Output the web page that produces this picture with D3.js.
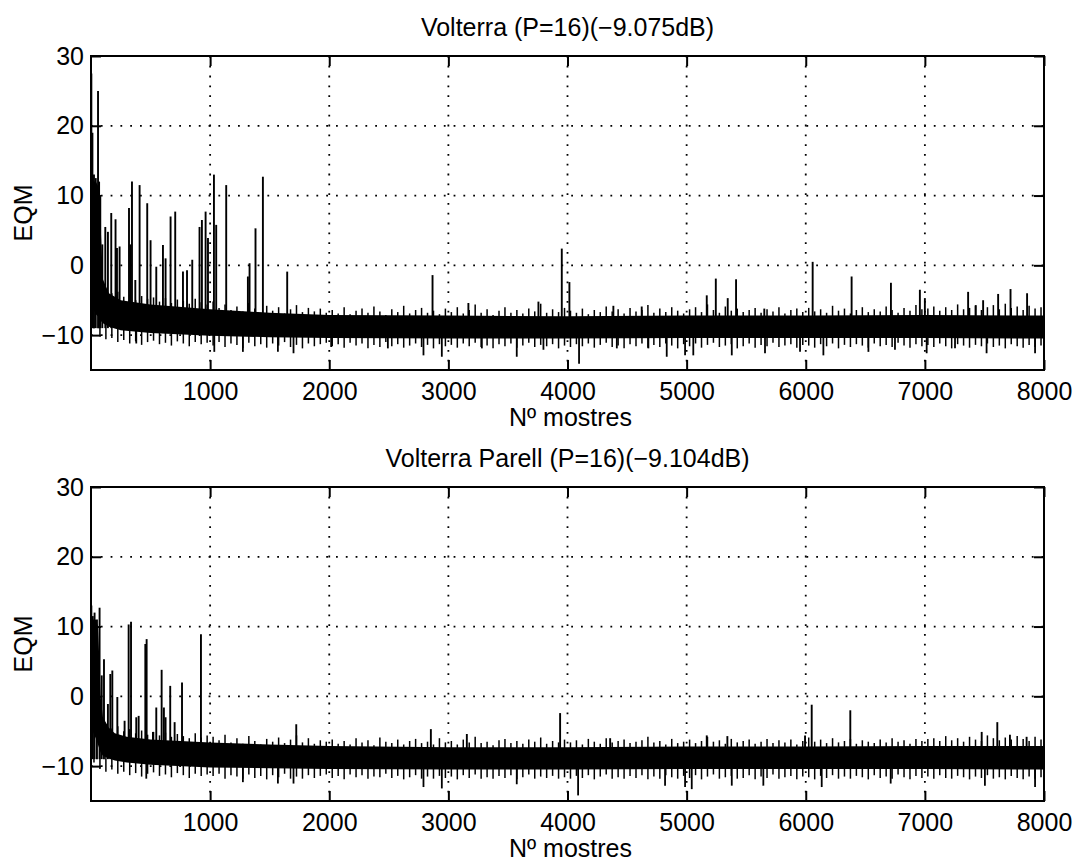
<!DOCTYPE html>
<html>
<head>
<meta charset="utf-8">
<script src="https://cdn.jsdelivr.net/npm/d3@7"></script>
<style>
  body { margin: 0; background: #fff; }
  text { font-family: "Liberation Sans", Arial, Helvetica, sans-serif; fill: #000; }
</style>
</head>
<body>
<div id="chart"></div>
<script>
// ---- data ----
var titles = ["Volterra (P=16)(\u22129.075dB)", "Volterra Parell (P=16)(\u22129.104dB)"];
var xTicks = [1000, 2000, 3000, 4000, 5000, 6000, 7000, 8000];
var yTicks = [-10, 0, 10, 20, 30];

// bin centres for the noise fringe (one value every 50 samples)
var binX = [25,75,125,175,225,275,325,375,425,475,525,575,625,675,725,775,825,875,925,975,
  1025,1075,1125,1175,1225,1275,1325,1375,1425,1475,1525,1575,1625,1675,1725,1775,1825,1875,1925,1975,
  2025,2075,2125,2175,2225,2275,2325,2375,2425,2475,2525,2575,2625,2675,2725,2775,2825,2875,2925,2975,
  3025,3075,3125,3175,3225,3275,3325,3375,3425,3475,3525,3575,3625,3675,3725,3775,3825,3875,3925,3975,
  4025,4075,4125,4175,4225,4275,4325,4375,4425,4475,4525,4575,4625,4675,4725,4775,4825,4875,4925,4975,
  5025,5075,5125,5175,5225,5275,5325,5375,5425,5475,5525,5575,5625,5675,5725,5775,5825,5875,5925,5975,
  6025,6075,6125,6175,6225,6275,6325,6375,6425,6475,6525,6575,6625,6675,6725,6775,6825,6875,6925,6975,
  7025,7075,7125,7175,7225,7275,7325,7375,7425,7475,7525,7575,7625,7675,7725,7775,7825,7875,7925,7975];

// panel 1 : Volterra
var topCoreX  = [0, 15, 40, 70, 85, 100, 150, 250, 500, 1000, 1500, 2000, 3000, 4000, 5000, 6000, 7000, 8000];
var topCoreHi = [27, 12, 12, 11, 4, -2, -4, -5, -5.6, -6.3, -6.8, -7.1, -7.2, -7.3, -7.2, -7.2, -7.1, -7.2];
var topCoreLo = [-2, -6, -7, -7.5, -8, -8.3, -8.8, -9.3, -9.7, -10.1, -10.3, -10.4, -10.5, -10.5, -10.4, -10.4, -10.4, -10.5];
var topFringeHi = [
  -1,-3,-3.5,-4,-3.8,-4.5,-4.2,-5,-4.4,-4.8,-4.6,-5.2,-4.7,-5.4,-4.9,-5.1,-5.5,-4.8,-5.3,-5.6,
  -5.2,-6.1,-5.6,-6.4,-5.9,-6.6,-5.4,-6.2,-6.8,-5.8,-6.5,-6,-6.9,-6.3,-5.7,-6.7,-6.1,-6.6,-6.2,-6.8,
  -6.4,-6.9,-6,-7,-6.5,-6.2,-6.8,-5.9,-6.6,-7.1,-6.3,-6.7,-5.8,-6.9,-6.4,-6.1,-6.8,-6.5,-7,-6.2,
  -6.7,-6,-6.9,-6.4,-5.6,-6.8,-6.3,-7.1,-6.5,-6,-6.8,-6.4,-6.9,-6.2,-6.6,-5.5,-6.8,-6.3,-6.7,-6.1,
  -6.5,-6.8,-6.2,-7,-6.4,-6.7,-5.9,-6.6,-6.3,-6.9,-6.1,-6.6,-6.4,-5.7,-6.8,-6.2,-6.7,-6,-6.5,-6.9,
  -6.3,-6,-6.7,-5.6,-6.4,-6.8,-5.9,-6.5,-6.2,-6.7,-6.4,-6.1,-6.8,-6.3,-6.6,-6,-6.9,-6.4,-6.2,-6.7,
  -6.1,-6.6,-6.3,-6.8,-5.8,-6.5,-6.2,-6.9,-6.4,-6,-6.7,-6.3,-6.6,-5.9,-6.4,-6.8,-6.1,-6.5,-5.7,-6.3,
  -6.2,-5.9,-6.5,-6,-6.4,-5.6,-6.3,-6.1,-5.8,-6.4,-6,-5.7,-6.3,-5.5,-6.1,-5.9,-6.4,-5.8,-6.2,-6];
var topFringeLo = [
  -9,-10.2,-10.6,-10.4,-11,-10.7,-11.2,-10.9,-11.4,-11,-10.8,-11.3,-11.1,-11.5,-10.9,-11.2,-11.6,-11,-11.3,-11.1,
  -11.5,-11,-11.7,-11.2,-11.4,-11.9,-11.1,-11.6,-11.3,-11.8,-11.2,-11.5,-11,-11.7,-11.4,-11.9,-11.2,-11.6,-11.3,-11.1,
  -11.6,-11.3,-11.8,-11.1,-11.5,-11.2,-11.9,-11.4,-11.7,-11,-11.6,-11.3,-11.8,-11.5,-11.2,-11.7,-11.4,-11.9,-11.3,-11.6,
  -11.4,-11.8,-11.2,-11.6,-11.1,-11.7,-11.5,-11.9,-11.3,-11.6,-11.2,-11.8,-11.5,-11.1,-11.7,-11.4,-11.6,-11.3,-11.9,-11.5,
  -11.7,-11.3,-11.6,-11.2,-11.8,-11.4,-11.1,-11.7,-11.5,-11.9,-11.3,-11.6,-11.2,-11.8,-11.4,-11.7,-11.2,-11.5,-11.9,-11.3,
  -11.6,-11.2,-11.8,-11.4,-11.1,-11.7,-11.5,-11.3,-11.9,-11.6,-11.2,-11.8,-11.4,-11.6,-11.1,-11.7,-11.5,-11.3,-11.8,-11.4,
  -11.5,-11.8,-11.3,-11.6,-11.2,-11.9,-11.4,-11.7,-11.3,-11.5,-11.8,-11.2,-11.6,-11.4,-11.7,-11.1,-11.5,-11.8,-11.3,-11.6,
  -11.4,-11.7,-11.2,-11.6,-11.9,-11.3,-11.5,-11.8,-11.4,-11.6,-11.2,-11.7,-11.5,-11.9,-11.3,-11.6,-11.8,-11.4,-11.7,-11.5];
var topSpikeX = [3,12,25,40,59,68,78,95,120,142,170,206,218,240,319,330,344,372,408,472,500,548,604,626,668,707,
  772,806,850,911,931,962,982,1032,1051,1135,1317,1331,1381,1443,1647,2867,3168,3756,3952,4016,4385,4623,
  5169,5245,5345,5415,5652,6058,6385,6715,6958,7000,7363,7427,7489,7615,7719,7858];
var topSpikeY = [27.5,19,13,12.5,25,12,10,3,5.5,4.8,7.5,6.6,2.5,2.7,8.2,3,12,-2.1,11.5,8.9,3.6,-0.2,2.9,1,7,7.7,
  -0.9,-0.7,0.8,5.5,6.5,7.7,3.9,13,5.8,11.5,-1.6,0.3,5.3,12.7,-0.9,-1.4,-5.4,-5.2,2.4,-2.4,-5.8,-5.9,
  -4.3,-1.9,-4.7,-2,-6.2,0.5,-1.6,-2.5,-3.5,-4.7,-3.8,-5.7,-5,-4.1,-3.4,-4];
var topDipX = [380,1035,1275,1569,1700,2016,2492,2791,2945,3281,3574,3798,4097,4414,4679,4833,4987,5056,
  5379,5658,5952,6148,6526,6749,7015,7253,7518,7925];
var topDipY = [-11.2,-12.4,-12.4,-12.4,-12.6,-11.7,-11.9,-12.9,-13.1,-11.9,-13.1,-12.1,-14.1,-11.9,-11.9,-13.1,-12.9,-12.9,
  -12.9,-12.6,-12.4,-12.9,-12.4,-12.1,-12.6,-11.9,-12.6,-12.6];

// panel 2 : Volterra Parell
var botCoreX  = [0, 15, 40, 60, 80, 100, 150, 200, 300, 500, 1000, 1500, 2000, 3000, 4000, 5000, 6000, 7000, 8000];
var botCoreHi = [12, 11, 11, 10, 0, -3, -4.5, -5.3, -5.8, -6.2, -6.6, -6.9, -7.1, -7.3, -7.3, -7.2, -7.2, -7.1, -7.1];
var botCoreLo = [-3, -5, -6, -7, -8, -8.5, -8.9, -9.2, -9.5, -9.8, -10.2, -10.3, -10.4, -10.5, -10.5, -10.4, -10.4, -10.4, -10.5];
var botFringeHi = [
  -2,-3.5,-4,-4.6,-4.3,-5,-4.7,-5.3,-4.9,-5.5,-5.1,-5.6,-5.2,-5.8,-5.4,-5.7,-6,-5.3,-5.9,-5.6,
  -5.8,-6.3,-5.5,-6.6,-6,-6.8,-5.7,-6.4,-6.9,-6.1,-6.5,-5.9,-6.7,-6.2,-5.6,-6.6,-6,-6.8,-6.3,-6.5,
  -6.2,-6.8,-6.4,-6.9,-6,-6.6,-6.3,-7,-5.9,-6.5,-6.7,-6.2,-6.9,-6.4,-6.1,-6.7,-6.5,-6.9,-6,-6.6,
  -6.4,-6.9,-6.2,-6.6,-5.8,-6.7,-6.5,-7,-6.3,-6.1,-6.7,-6.4,-6.8,-6.2,-6.5,-5.9,-6.8,-6.4,-6.6,-6.2,
  -6.6,-6.3,-6.9,-6.1,-6.5,-6.8,-6,-6.6,-6.4,-6.2,-6.7,-6.5,-6.3,-5.8,-6.6,-6.4,-6.9,-6.1,-6.7,-6.5,
  -6.2,-6.7,-6.4,-5.8,-6.5,-6.3,-6.8,-6.1,-6.6,-6.4,-6.2,-6.8,-6.5,-6.1,-6.7,-6.3,-6.6,-6.2,-6.9,-6.4,
  -5.9,-6.5,-6.2,-6.7,-6,-6.6,-6.4,-6.1,-6.8,-6.3,-6.5,-6.7,-6.2,-6.6,-6,-6.5,-6.3,-6.8,-6.1,-6.4,
  -6.1,-6,-6.4,-5.7,-6.3,-6,-6.5,-5.8,-6.2,-6.4,-5.6,-6,-6.3,-5.9,-6.2,-5.7,-6.1,-6.4,-5.8,-6.2];
var botFringeLo = [
  -9.5,-10.4,-10.8,-10.5,-11.1,-10.8,-11.3,-11,-11.5,-11.1,-10.9,-11.4,-11.2,-11.6,-11,-11.3,-11.7,-11.1,-11.4,-11.2,
  -11.4,-11.1,-11.8,-11.3,-11.5,-11.8,-11.2,-11.7,-11.4,-11.9,-11.3,-11.6,-11.1,-11.8,-11.5,-11.8,-11.3,-11.7,-11.4,-11.2,
  -11.7,-11.4,-11.9,-11.2,-11.6,-11.3,-11.8,-11.5,-11.6,-11.1,-11.7,-11.4,-11.9,-11.6,-11.3,-11.8,-11.5,-11.8,-11.4,-11.7,
  -11.5,-11.9,-11.3,-11.7,-11.2,-11.8,-11.6,-11.8,-11.4,-11.7,-11.3,-11.9,-11.6,-11.2,-11.8,-11.5,-11.7,-11.4,-11.8,-11.6,
  -11.8,-11.4,-11.7,-11.3,-11.9,-11.5,-11.2,-11.8,-11.6,-11.8,-11.4,-11.7,-11.3,-11.9,-11.5,-11.8,-11.3,-11.6,-11.8,-11.4,
  -11.7,-11.3,-11.9,-11.5,-11.2,-11.8,-11.6,-11.4,-11.8,-11.7,-11.3,-11.9,-11.5,-11.7,-11.2,-11.8,-11.6,-11.4,-11.9,-11.5,
  -11.6,-11.9,-11.4,-11.7,-11.3,-11.8,-11.5,-11.8,-11.4,-11.6,-11.9,-11.3,-11.7,-11.5,-11.8,-11.2,-11.6,-11.9,-11.4,-11.7,
  -11.5,-11.8,-11.3,-11.7,-11.8,-11.4,-11.6,-11.9,-11.5,-11.7,-11.3,-11.8,-11.6,-11.9,-11.4,-11.7,-11.9,-11.5,-11.8,-11.6];
var botSpikeX = [3,15,30,50,72,90,109,142,162,179,221,282,316,336,380,400,456,467,520,548,593,612,626,665,702,764,923,
  1723,2853,3155,3938,4358,5169,5342,5994,6050,6374,7477,7608,7714,7854];
var botSpikeY = [13,11.5,12,11,12.7,3,5.3,-1.1,3.2,3.7,-0.1,-3.5,10.3,10.7,-3,-2.8,7.5,8.2,-5.1,-1.6,3.8,-1.6,-3,1.5,-3.7,2,8.9,
  -4,-4.7,-5.4,-2.4,-6,-5.6,-5.7,-5.6,-1.2,-2,-5.1,-3.7,-5.5,-5.8];
var botDipX = [464,1275,1569,1700,2791,2945,3574,4089,4819,4987,5043,5379,5644,6134,6713,7504,7925];
var botDipY = [-11.8,-12.3,-12.5,-12.5,-13,-13.2,-12.6,-14.2,-12.8,-13,-13.3,-12.8,-12.8,-13,-12.5,-12.8,-13];

var panels = [
  { title: titles[0], top: 56, coreX: topCoreX, coreHi: topCoreHi, coreLo: topCoreLo,
    fHi: topFringeHi, fLo: topFringeLo, sX: topSpikeX, sY: topSpikeY, dX: topDipX, dY: topDipY },
  { title: titles[1], top: 487, coreX: botCoreX, coreHi: botCoreHi, coreLo: botCoreLo,
    fHi: botFringeHi, fLo: botFringeLo, sX: botSpikeX, sY: botSpikeY, dX: botDipX, dY: botDipY }
];

// ---- drawing ----
var W = 1076, H = 864;
var left = 91, plotW = 953, plotH = 314;

var svg = d3.select("#chart").append("svg")
  .attr("width", W)
  .attr("height", H);

var x = d3.scaleLinear().domain([0, 8000]).range([0, plotW]);
var y = d3.scaleLinear().domain([-15, 30]).range([plotH, 0]);

var fmt = function (d) { return d < 0 ? "\u2212" + Math.abs(d) : d; };

panels.forEach(function (p, k) {
  var g = svg.append("g").attr("transform", "translate(" + left + "," + p.top + ")");

  g.append("clipPath").attr("id", "clip" + k)
    .append("rect").attr("width", plotW).attr("height", plotH);

  // dotted grid
  g.selectAll(".gx").data(xTicks.filter(function (d) { return d < 8000; }))
    .enter().append("line")
    .attr("x1", function (d) { return x(d); }).attr("x2", function (d) { return x(d); })
    .attr("y1", 0).attr("y2", plotH)
    .attr("stroke", "#000").attr("stroke-width", 1.8).attr("stroke-dasharray", "1.8 8");
  g.selectAll(".gy").data(yTicks.filter(function (d) { return d < 30; }))
    .enter().append("line")
    .attr("x1", 0).attr("x2", plotW)
    .attr("y1", function (d) { return y(d); }).attr("y2", function (d) { return y(d); })
    .attr("stroke", "#000").attr("stroke-width", 1.8).attr("stroke-dasharray", "1.8 8");

  var data = g.append("g").attr("clip-path", "url(#clip" + k + ")");

  // dense core of the noisy curve
  var area = d3.area()
    .x(function (d, i) { return x(p.coreX[i]); })
    .y0(function (d, i) { return y(p.coreLo[i]); })
    .y1(function (d, i) { return y(p.coreHi[i]); });
  data.append("path").datum(p.coreX).attr("d", area).attr("fill", "#000");

  // fringe of the band: min/max of each 50-sample bin
  data.selectAll(".fr").data(binX).enter().append("line")
    .attr("x1", function (d) { return x(d); }).attr("x2", function (d) { return x(d); })
    .attr("y1", function (d, i) { return y(p.fLo[i]); })
    .attr("y2", function (d, i) { return y(p.fHi[i]); })
    .attr("stroke", "#000").attr("stroke-width", 1.5);

  // upward spikes
  data.selectAll(".sp").data(p.sX).enter().append("line")
    .attr("x1", function (d) { return x(d); }).attr("x2", function (d) { return x(d); })
    .attr("y1", y(-9))
    .attr("y2", function (d, i) { return y(p.sY[i]); })
    .attr("stroke", "#000").attr("stroke-width", 1.9);

  // downward dips
  data.selectAll(".dp").data(p.dX).enter().append("line")
    .attr("x1", function (d) { return x(d); }).attr("x2", function (d) { return x(d); })
    .attr("y1", y(-8))
    .attr("y2", function (d, i) { return y(p.dY[i]); })
    .attr("stroke", "#000").attr("stroke-width", 1.8);

  // axes, ticks pointing inward
  var ax = [
    g.append("g").attr("transform", "translate(0," + plotH + ")")
      .call(d3.axisBottom(x).tickValues(xTicks).tickSizeInner(-10).tickSizeOuter(0).tickPadding(12).tickFormat(d3.format("d"))),
    g.append("g")
      .call(d3.axisTop(x).tickValues(xTicks).tickSizeInner(-10).tickSizeOuter(0).tickFormat("")),
    g.append("g")
      .call(d3.axisLeft(y).tickValues(yTicks).tickSizeInner(-10).tickSizeOuter(0).tickPadding(7).tickFormat(fmt)),
    g.append("g").attr("transform", "translate(" + plotW + ",0)")
      .call(d3.axisRight(y).tickValues(yTicks).tickSizeInner(-10).tickSizeOuter(0).tickFormat(""))
  ];
  ax.forEach(function (a) {
    a.select(".domain").remove();
    a.selectAll("line").attr("stroke", "#000").attr("stroke-width", 2);
    a.selectAll("text").attr("font-size", 25)
      .style("font-family", '"Liberation Sans", Arial, Helvetica, sans-serif');
  });

  g.append("rect").attr("width", plotW).attr("height", plotH)
    .attr("fill", "none").attr("stroke", "#000").attr("stroke-width", 2);

  g.append("text").attr("x", plotW / 2).attr("y", -20)
    .attr("text-anchor", "middle").attr("font-size", 25).text(p.title);

  g.append("text").attr("x", plotW / 2 + 3).attr("y", plotH + 56)
    .attr("text-anchor", "middle").attr("font-size", 25).text("N\u00ba mostres");

  g.append("text")
    .attr("transform", "translate(" + (32 - left) + "," + plotH / 2 + ") rotate(-90)")
    .attr("text-anchor", "middle").attr("font-size", 25).text("EQM");
});
</script>
</body>
</html>
